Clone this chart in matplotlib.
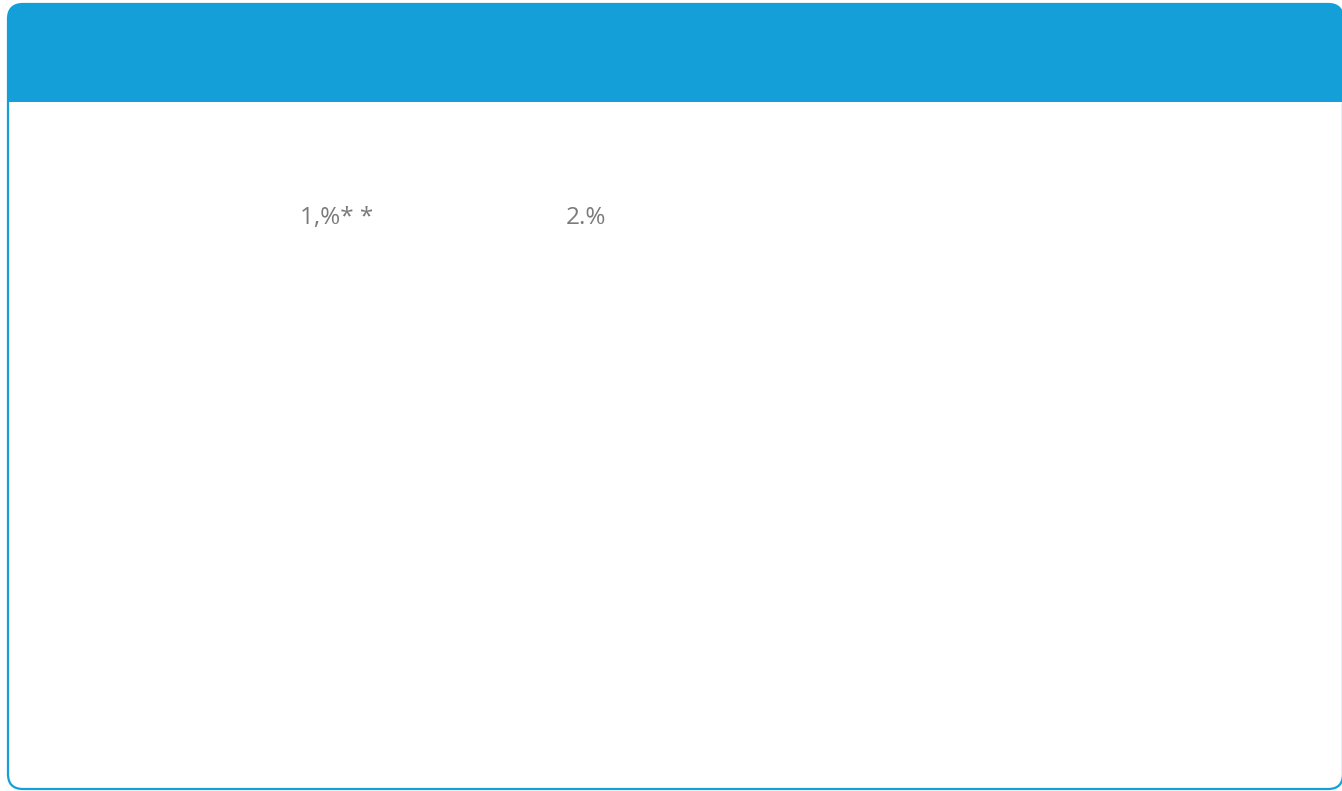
import matplotlib
matplotlib.use("Agg")
import matplotlib.pyplot as plt
from matplotlib.patches import FancyBboxPatch, Rectangle

# labels shown in the (empty) chart body
labels = ["1,%* *", "2.%"]
label_x = [300, 566]
label_y = [218, 218]

W, H = 1342, 791
fig = plt.figure(figsize=(W / 100, H / 100), dpi=100)
fig.patch.set_facecolor("white")
ax = fig.add_axes([0, 0, 1, 1])
ax.set_xlim(0, W)
ax.set_ylim(H, 0)
ax.axis("off")

blue = "#159fd9"

# card with rounded corners
card = FancyBboxPatch((8, 4), 1335, 785, boxstyle="round,pad=0,rounding_size=15",
                      facecolor="white", edgecolor=blue, linewidth=1.6, zorder=1)
ax.add_patch(card)

# blue header clipped to the card shape
header = Rectangle((0, 0), W, 102, facecolor=blue, edgecolor="none", zorder=2)
ax.add_patch(header)
header.set_clip_path(card)

for t, x, y in zip(labels, label_x, label_y):
    ax.text(x, y, t, fontsize=17.5, color="#7a7a7a", family=["Open Sans", "DejaVu Sans"],
            ha="left", va="center", zorder=3)

fig.savefig("out.png", dpi=100, facecolor=fig.get_facecolor())
